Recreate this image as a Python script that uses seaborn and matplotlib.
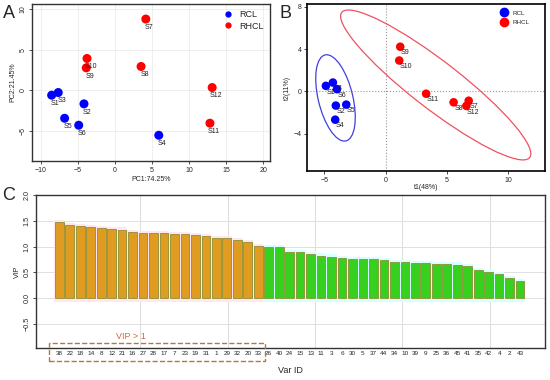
import numpy as np
import pandas as pd
import matplotlib
matplotlib.use('Agg')
import matplotlib.pyplot as plt
import seaborn as sns
from matplotlib.patches import Ellipse, Rectangle
from matplotlib.lines import Line2D

# ── Data ──────────────────────────────────────────────────
samples = ['S1', 'S2', 'S3', 'S4', 'S5', 'S6', 'S7', 'S8', 'S9', 'S10', 'S11', 'S12']
groups = ['RCL'] * 6 + ['RHCL'] * 6

# A: PCA scores
pc1 = [-8.55, -4.19, -7.66, 5.9, -6.8, -4.9, 4.15, 3.51, -3.88, -3.78, 12.8, 13.1]
pc2 = [-0.62, -1.69, -0.29, -5.57, -3.47, -4.33, 8.79, 2.93, 2.76, 3.92, -4.08, 0.33]

# B: PLS-DA scores
t1 = [-4.86, -4.05, -4.29, -4.1, -3.2, -3.96, 6.78, 5.55, 1.2, 1.12, 3.31, 6.59]
t2 = [0.53, -1.33, 0.84, -2.66, -1.24, 0.22, -0.87, -1.02, 4.22, 2.92, -0.21, -1.36]

# C: VIP values
var_ids = [38, 22, 18, 14, 8, 12, 21, 16, 27, 28, 17, 7, 23, 19, 31, 1, 29, 32, 20, 33,
           26, 40, 24, 15, 13, 11, 3, 6, 30, 5, 37, 44, 34, 10, 39, 9, 25, 36, 45, 41,
           35, 42, 4, 2, 43]
vip = [1.48, 1.42, 1.405, 1.375, 1.355, 1.335, 1.33, 1.285, 1.27, 1.265, 1.26, 1.245,
       1.24, 1.22, 1.21, 1.16, 1.16, 1.135, 1.09, 1.01,
       0.99, 0.985, 0.89, 0.89, 0.85, 0.825, 0.805, 0.78, 0.765, 0.76, 0.755, 0.733,
       0.707, 0.70, 0.687, 0.675, 0.66, 0.66, 0.65, 0.62, 0.55, 0.51, 0.467, 0.39, 0.337]

pal = {'RCL': '#0000FF', 'RHCL': '#FF0000'}
ell_cols = {'RCL': '#4040E0', 'RHCL': '#F05060'}
ell_scale = 3.0

sns.set_style('ticks')
plt.rcParams['font.family'] = ['Liberation Sans', 'DejaVu Sans']

fig = plt.figure(figsize=(5.5, 3.8), dpi=100)

# ── Panel A ───────────────────────────────────────────────
dfA = pd.DataFrame({'sample': samples, 'group': groups, 'pc1': pc1, 'pc2': pc2})
axA = fig.add_axes([32 / 550, 1 - 161 / 380, 238 / 550, 157 / 380])
sns.scatterplot(data=dfA, x='pc1', y='pc2', hue='group', palette=pal, s=42,
                edgecolor='none', legend=False, ax=axA, zorder=3)
for _, r in dfA.iterrows():
    axA.annotate(r['sample'], (r['pc1'], r['pc2']), xytext=(2.5, -6),
                 textcoords='offset points', ha='center', va='center',
                 fontsize=5, color='#222222', zorder=4)
axA.set_xlim(-11.2, 20.9)
axA.set_ylim(-8.75, 10.65)
axA.set_xticks([-10, -5, 0, 5, 10, 15, 20])
axA.set_yticks([-5, 0, 5, 10])
axA.grid(color='#EBEBEB', lw=0.6)
axA.set_axisbelow(True)
axA.set_xlabel('PC1:74.25%', fontsize=5, labelpad=2)
axA.set_ylabel('PC2:21.45%', fontsize=5, labelpad=2)
axA.tick_params(labelsize=5, length=2.5, width=0.6, pad=1.5, color='#333333')
plt.setp(axA.get_yticklabels(), rotation=90, va='center')
for sp in axA.spines.values():
    sp.set_color('#333333')
    sp.set_linewidth(1.0)
hA = [Line2D([], [], marker='o', ls='', color=pal[g], markersize=3.5, label=g) for g in pal]
axA.legend(handles=hA, loc='upper right', frameon=False, fontsize=6.5,
           handletextpad=0.2, borderaxespad=0.3, labelspacing=0.25)

# ── Panel B ───────────────────────────────────────────────
dfB = pd.DataFrame({'sample': samples, 'group': groups, 't1': t1, 't2': t2})
axB = fig.add_axes([307 / 550, 1 - 171 / 380, 238 / 550, 167 / 380])
axB.axhline(0, color='#999999', ls=':', lw=0.8, zorder=1)
axB.axvline(0, color='#999999', ls=':', lw=0.8, zorder=1)
for g in pal:
    sub = dfB[dfB['group'] == g]
    cov = np.cov(sub['t1'], sub['t2'])
    vals, vecs = np.linalg.eigh(cov)
    ang = np.degrees(np.arctan2(vecs[1, 1], vecs[0, 1]))
    w, h = 2 * ell_scale * np.sqrt(vals[::-1])
    axB.add_patch(Ellipse((sub['t1'].mean(), sub['t2'].mean()), w, h, angle=ang,
                          fill=False, ec=ell_cols[g], lw=0.9, zorder=2))
sns.scatterplot(data=dfB, x='t1', y='t2', hue='group', palette=pal, s=38,
                edgecolor='none', legend=False, ax=axB, zorder=3)
for _, r in dfB.iterrows():
    axB.annotate(r['sample'], (r['t1'], r['t2']), xytext=(0.5, -4.5),
                 textcoords='offset points', ha='left', va='center',
                 fontsize=5, color='#222222', zorder=4)
axB.set_xlim(-6.4, 13.0)
axB.set_ylim(-7.5, 8.25)
axB.set_xticks([-5, 0, 5, 10])
axB.set_yticks([-4, 0, 4, 8])
axB.set_xlabel('t1(48%)', fontsize=5, labelpad=0)
axB.set_ylabel('t2(11%)', fontsize=5, labelpad=2)
axB.tick_params(labelsize=5, length=2.5, width=0.6, pad=1.5)
for sp in axB.spines.values():
    sp.set_color('black')
    sp.set_linewidth(1.2)
hB = [Line2D([], [], marker='o', ls='', color=pal[g], markersize=6, label=g) for g in pal]
axB.legend(handles=hB, loc='upper right', frameon=False, fontsize=4.5,
           handletextpad=0.3, borderaxespad=0.6, labelspacing=0.6,
           bbox_to_anchor=(0.96, 1.0))

# ── Panel C ───────────────────────────────────────────────
dfC = pd.DataFrame({'var': [str(v) for v in var_ids], 'vip': vip})
dfC['grp'] = np.where(dfC['vip'] > 1, 'hi', 'lo')
n = len(dfC)
axC = fig.add_axes([36 / 550, 1 - 348 / 380, 509 / 550, 153 / 380])
halo_cols = np.where(dfC['grp'] == 'hi', '#FFE6F0', '#D8FFFF')
axC.bar(np.arange(n), dfC['vip'] + 0.12, bottom=-0.08, width=1.0,
        color=halo_cols, lw=0, zorder=1)
sns.barplot(data=dfC, x='var', y='vip', hue='grp', order=dfC['var'],
            palette={'hi': '#FFA500', 'lo': '#22EE00'}, width=1 / 1.2, dodge=False,
            edgecolor='#8C9030', linewidth=0.6, legend=False, ax=axC, zorder=3)
axC.set_xlim(-2.22, 46.38)
axC.set_ylim(-0.97, 2.0)
axC.set_yticks([-0.5, 0.0, 0.5, 1.0, 1.5, 2.0])
axC.set_xticks([(g - 0.7) / 1.2 for g in (10, 20, 30, 40, 50)], minor=True)
axC.grid(axis='y', which='major', color='#E0E0E0', lw=0.7)
axC.grid(axis='x', which='minor', color='#DCDCDC', lw=0.7)
axC.set_axisbelow(True)
axC.tick_params(axis='x', which='both', length=0, labelsize=4.6, pad=2.5)
axC.tick_params(axis='y', labelsize=5.2, length=2.5, width=0.6, pad=1.5)
plt.setp(axC.get_yticklabels(), rotation=90, va='center')
axC.set_xlabel('Var ID', fontsize=6.5, labelpad=7)
axC.set_ylabel('VIP', fontsize=5.5, labelpad=2)
for sp in axC.spines.values():
    sp.set_color('#333333')
    sp.set_linewidth(1.0)
n_hi = int((dfC['grp'] == 'hi').sum())
axC.add_patch(Rectangle((-1.02, -1.226), n_hi + 0.69, 0.351, fill=False, ls='--',
                        ec='#B8763A', lw=1.0, clip_on=False, zorder=5))
axC.text(6.8, -0.75, 'VIP > 1', color='#E0603A', fontsize=6.5, ha='center', va='center')

# panel letters
fig.text(3 / 550, 1 - 14 / 380, 'A', fontsize=13, va='center')
fig.text(280 / 550, 1 - 14 / 380, 'B', fontsize=13, va='center')
fig.text(2 / 550, 1 - 195 / 380, 'C', fontsize=13, va='center')

fig.savefig('out.png', dpi=100)
